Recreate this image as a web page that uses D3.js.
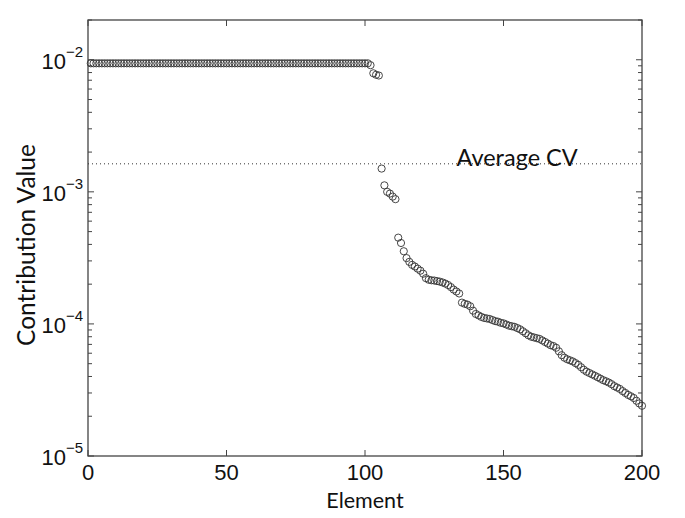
<!DOCTYPE html>
<html>
<head>
<meta charset="utf-8">
<script src="https://cdn.jsdelivr.net/npm/d3@7"></script>
<style>
  body { margin: 0; background: #fff; }
  svg { display: block; }
</style>
</head>
<body>
<svg id="chart" width="685" height="518"></svg>
<script>
// contribution value per element (element = 1..200)
const plateau = [
  0.0094, 0.0094, 0.0094, 0.0094, 0.0094, 0.0094, 0.0094, 0.0094, 0.0094, 0.0094,
  0.0094, 0.0094, 0.0094, 0.0094, 0.0094, 0.0094, 0.0094, 0.0094, 0.0094, 0.0094,
  0.0094, 0.0094, 0.0094, 0.0094, 0.0094, 0.0094, 0.0094, 0.0094, 0.0094, 0.0094,
  0.0094, 0.0094, 0.0094, 0.0094, 0.0094, 0.0094, 0.0094, 0.0094, 0.0094, 0.0094,
  0.0094, 0.0094, 0.0094, 0.0094, 0.0094, 0.0094, 0.0094, 0.0094, 0.0094, 0.0094,
  0.0094, 0.0094, 0.0094, 0.0094, 0.0094, 0.0094, 0.0094, 0.0094, 0.0094, 0.0094,
  0.0094, 0.0094, 0.0094, 0.0094, 0.0094, 0.0094, 0.0094, 0.0094, 0.0094, 0.0094,
  0.0094, 0.0094, 0.0094, 0.0094, 0.0094, 0.0094, 0.0094, 0.0094, 0.0094, 0.0094,
  0.0094, 0.0094, 0.0094, 0.0094, 0.0094, 0.0094, 0.0094, 0.0094, 0.0094, 0.0094,
  0.0094, 0.0094, 0.0094, 0.0094, 0.0094, 0.0094, 0.0094, 0.0094, 0.0094, 0.0094,
  0.0094
];
const tail = [
  0.0091, 0.0079, 0.0077, 0.0076,
  0.00150, 0.00112, 0.00100, 0.00097, 0.00092, 0.00088,
  0.00045, 0.00041, 0.000355, 0.000315, 0.000295, 0.00028, 0.000272, 0.000262, 0.000253,
  0.000240, 0.000222, 0.000216, 0.000214, 0.000213, 0.000211, 0.000209, 0.000206, 0.000202,
  0.000197, 0.000190, 0.000182, 0.000176,
  0.000170, 0.000145, 0.000142, 0.000140, 0.000136, 0.000126, 0.000119, 0.000116, 0.000113,
  0.000111, 0.000110, 0.000109, 0.000107, 0.000105, 0.000104, 0.000102, 0.000101,
  0.000099, 0.000097, 0.000096, 0.000095, 0.000093, 0.000091, 0.000088, 0.000085,
  0.000082, 0.000080, 0.000079, 0.000078, 0.000077, 0.000075, 0.000073, 0.000071,
  0.000069, 0.000068, 0.000066, 0.000062, 0.000058, 0.0000555, 0.000054, 0.000053,
  0.000052, 0.0000505, 0.000049, 0.000047, 0.000045, 0.0000435, 0.0000425, 0.0000415,
  0.0000405, 0.0000395, 0.0000385, 0.0000375, 0.0000368, 0.000036, 0.000035, 0.0000338,
  0.000033, 0.0000322, 0.000031, 0.00003, 0.000029, 0.0000283, 0.0000275, 0.0000262,
  0.000025, 0.000024
];
const values = plateau.concat(tail);
const averageCV = 0.00163;

const xTicks = [0, 50, 100, 150, 200];
const yTicks = [-5, -4, -3, -2]; // exponents of 10

const margin = { top: 20, right: 43, bottom: 62, left: 88 };
const width = 685 - margin.left - margin.right;
const height = 518 - margin.top - margin.bottom;

const svg = d3.select('#chart');
const g = svg.append('g').attr('transform', `translate(${margin.left},${margin.top})`);

const x = d3.scaleLinear().domain([0, 200]).range([0, width]);
const y = d3.scaleLog().domain([1e-5, 0.02]).range([height, 0]);

const axisColor = '#444';
const tickFont = '"Liberation Sans", Arial, sans-serif';
const labelFont = 'Lato, "DejaVu Sans", sans-serif';

// minor log ticks
const minor = [];
for (let e = -5; e <= -2; e++) {
  for (let m = 1; m <= 9; m++) {
    const v = m * Math.pow(10, e);
    if (v <= 0.02) minor.push({ v, major: m === 1 });
  }
}

const tickG = g.append('g');
tickG.selectAll('line.yl').data(minor).enter().append('line')
  .attr('x1', 0).attr('x2', (d) => (d.major ? 6 : 4))
  .attr('y1', (d) => y(d.v)).attr('y2', (d) => y(d.v))
  .attr('stroke', axisColor).attr('stroke-width', 1);
tickG.selectAll('line.yr').data(minor).enter().append('line')
  .attr('x1', width).attr('x2', (d) => width - (d.major ? 6 : 4))
  .attr('y1', (d) => y(d.v)).attr('y2', (d) => y(d.v))
  .attr('stroke', axisColor).attr('stroke-width', 1);
tickG.selectAll('line.xb').data(xTicks).enter().append('line')
  .attr('x1', (d) => x(d)).attr('x2', (d) => x(d))
  .attr('y1', height).attr('y2', height - 6)
  .attr('stroke', axisColor).attr('stroke-width', 1);
tickG.selectAll('line.xt').data(xTicks).enter().append('line')
  .attr('x1', (d) => x(d)).attr('x2', (d) => x(d))
  .attr('y1', 0).attr('y2', 6)
  .attr('stroke', axisColor).attr('stroke-width', 1);

// box
g.append('rect')
  .attr('x', 0).attr('y', 0).attr('width', width).attr('height', height)
  .attr('fill', 'none').attr('stroke', axisColor).attr('stroke-width', 1.3);

// x tick labels
g.append('g').selectAll('text').data(xTicks).enter().append('text')
  .attr('x', (d) => x(d)).attr('y', height + 24)
  .attr('text-anchor', 'middle')
  .attr('font-family', tickFont).attr('font-size', 22).attr('fill', '#111')
  .text((d) => d);

// y tick labels 10^e
const yLab = g.append('g').selectAll('text').data(yTicks).enter().append('text')
  .attr('x', -5).attr('y', (d) => y(Math.pow(10, d)) + 9)
  .attr('text-anchor', 'end')
  .attr('font-family', tickFont).attr('font-size', 22).attr('fill', '#111');
yLab.append('tspan').text('10');
yLab.append('tspan').attr('dy', -12).attr('font-size', 15).text((d) => '\u2212' + Math.abs(d));

// average line
g.append('line')
  .attr('x1', 0).attr('x2', width)
  .attr('y1', y(averageCV)).attr('y2', y(averageCV))
  .attr('stroke', '#333').attr('stroke-width', 1)
  .attr('stroke-dasharray', '1,3');

g.append('text')
  .attr('x', x(133)).attr('y', y(averageCV) + 2)
  .attr('font-family', labelFont).attr('font-size', 23.5).attr('fill', '#111')
  .text('Average CV');

// markers
g.append('g').selectAll('circle').data(values).enter().append('circle')
  .attr('cx', (d, i) => x(i + 1))
  .attr('cy', (d) => y(d))
  .attr('r', 3.6)
  .attr('fill', 'none')
  .attr('stroke', '#333')
  .attr('stroke-width', 0.9);

// axis labels
g.append('text')
  .attr('x', width / 2).attr('y', height + 52)
  .attr('text-anchor', 'middle')
  .attr('font-family', labelFont).attr('font-size', 21.5).attr('fill', '#111')
  .text('Element');

g.append('text')
  .attr('transform', `translate(${-53},${height / 2 + 7}) rotate(-90)`)
  .attr('text-anchor', 'middle')
  .attr('font-family', labelFont).attr('font-size', 24.5).attr('fill', '#111')
  .text('Contribution Value');
</script>
</body>
</html>
